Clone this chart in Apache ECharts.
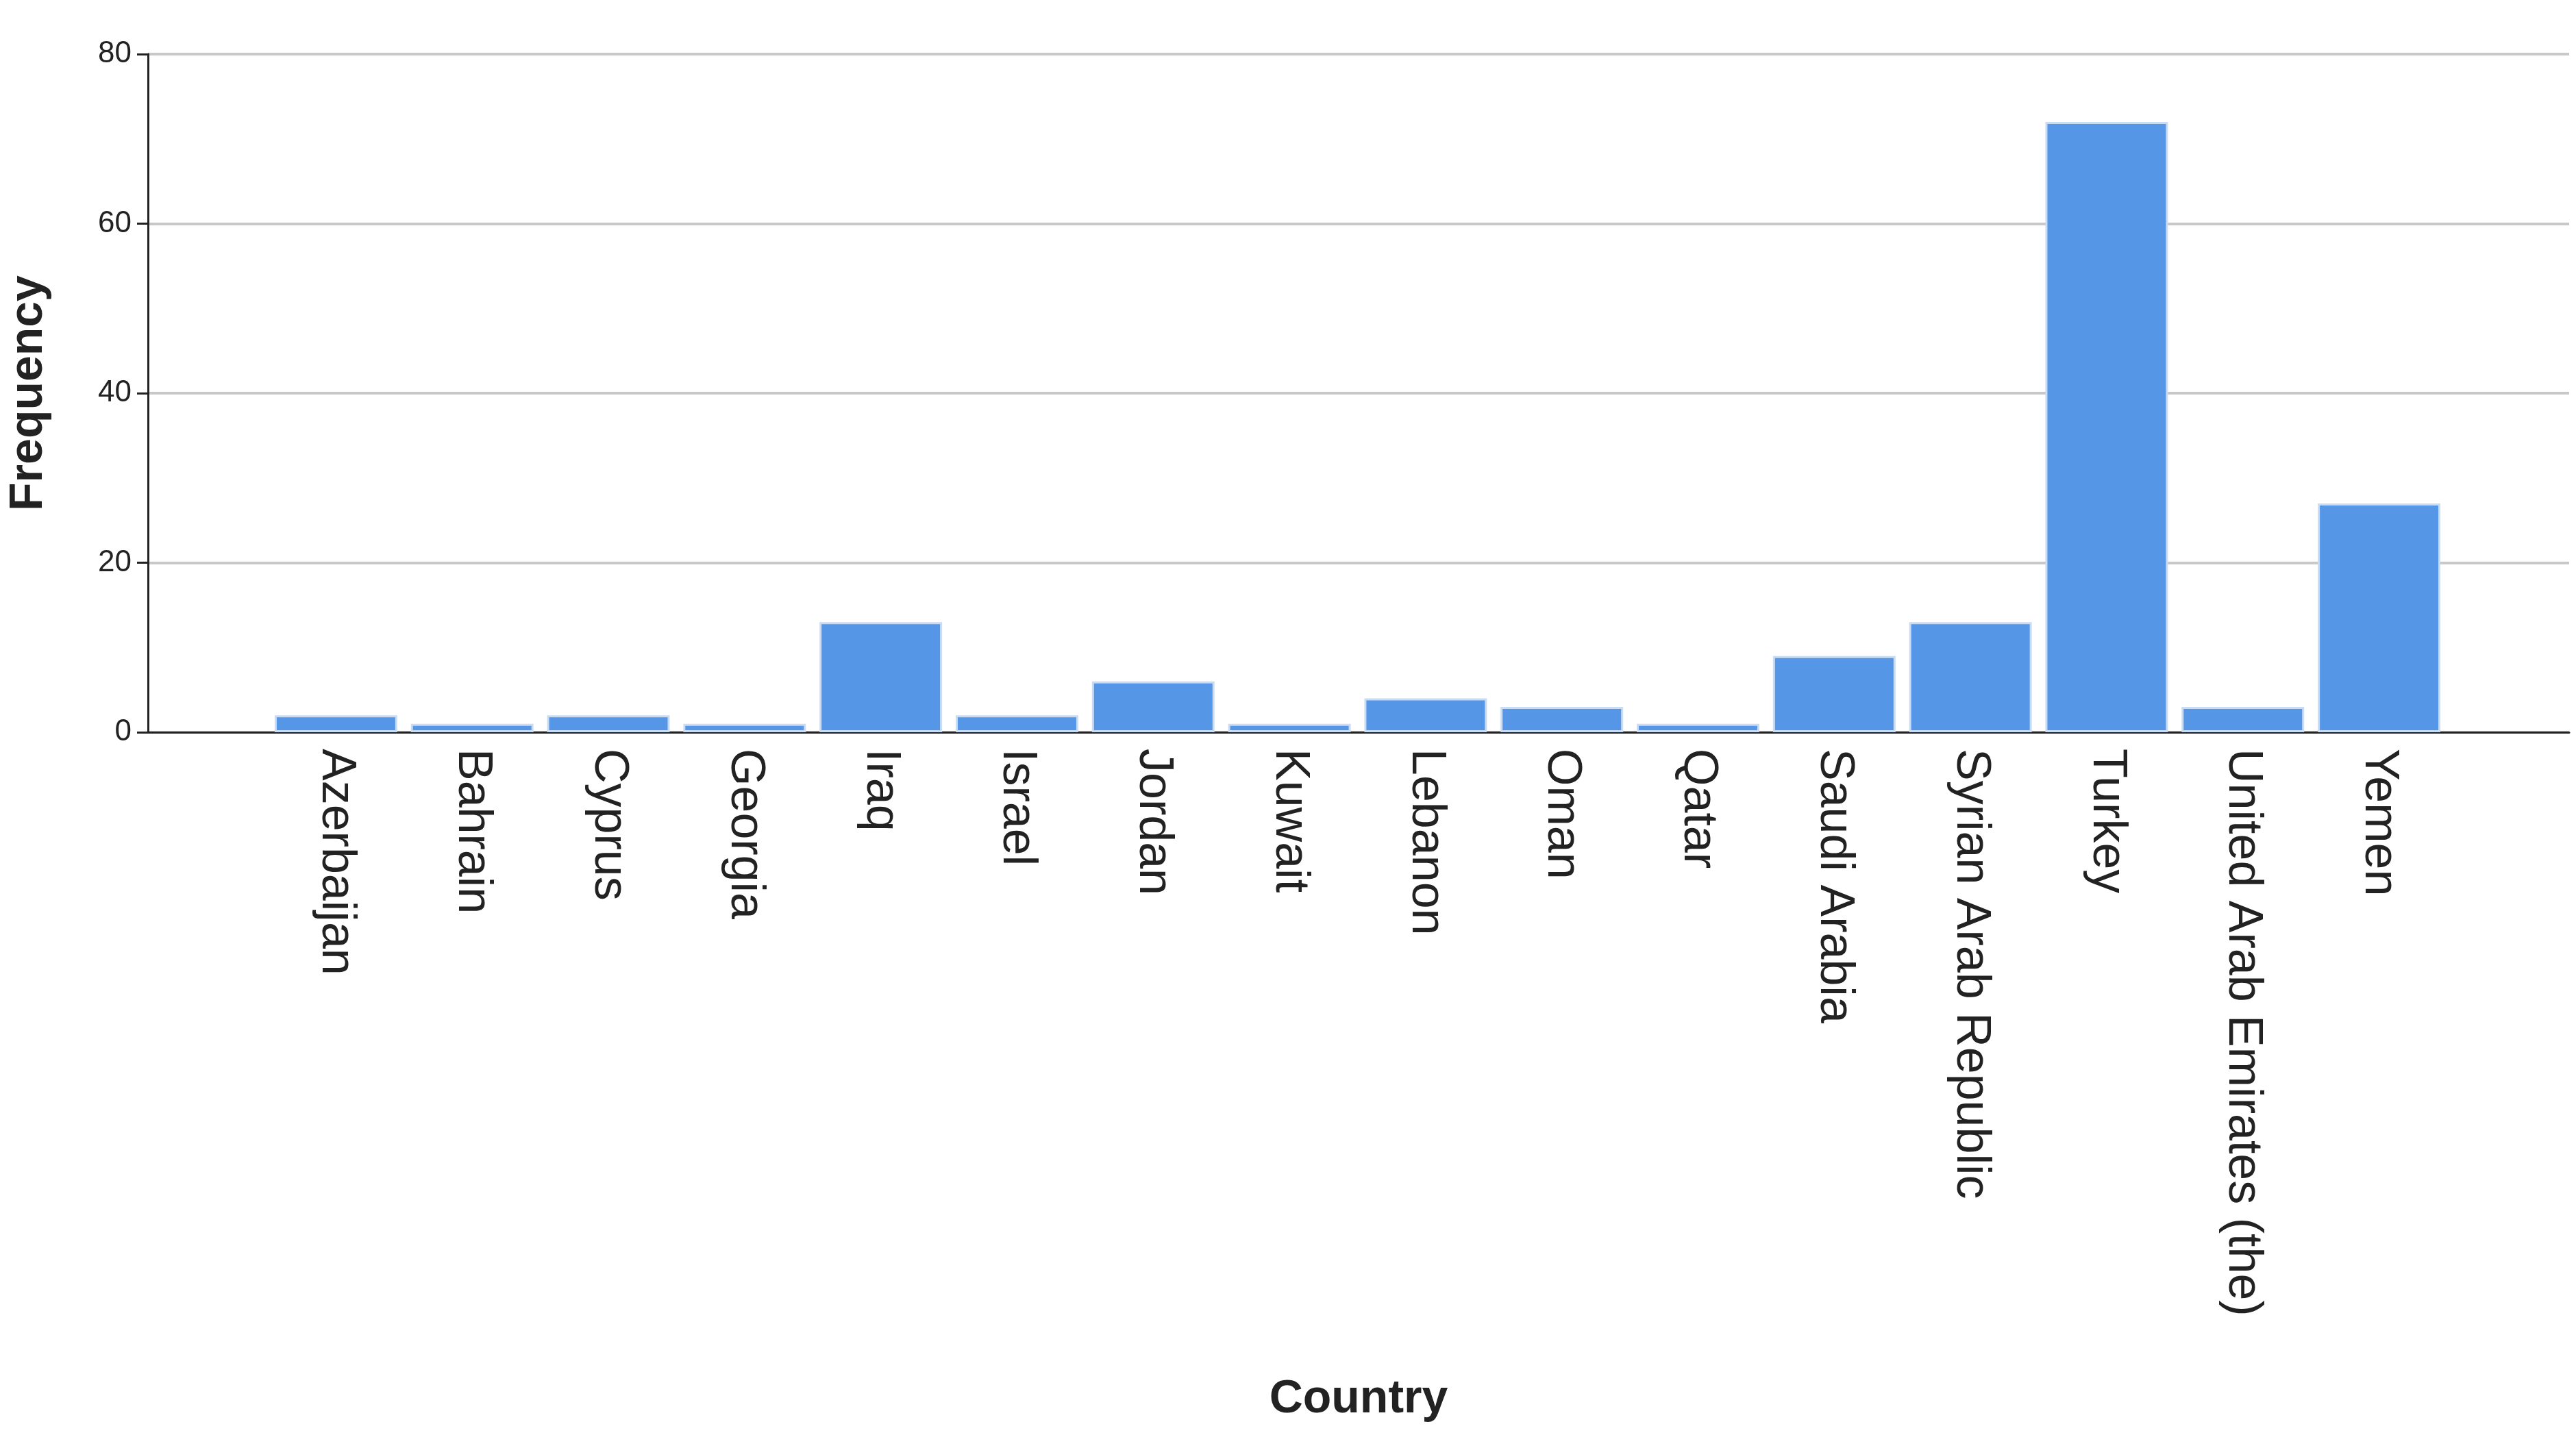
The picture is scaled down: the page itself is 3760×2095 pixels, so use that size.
<!doctype html>
<html>
<head>
<meta charset="utf-8">
<script src="https://cdn.jsdelivr.net/npm/echarts@6/dist/echarts.min.js"></script>
<style>html,body{margin:0;background:#fff}#main{width:3760px;height:2095px}</style>
</head>
<body>
<div id="main"></div>
<script>
var countries = ['Azerbaijan','Bahrain','Cyprus','Georgia','Iraq','Israel','Jordan','Kuwait','Lebanon','Oman','Qatar','Saudi Arabia','Syrian Arab Republic','Turkey','United Arab Emirates (the)','Yemen'];
var counts = [2,1,2,1,13,2,6,1,4,3,1,9,13,72,3,27];
var yTicks = [0,20,40,60,80];

var chart = echarts.init(document.getElementById('main'));
var font = 'Liberation Sans, Arial, sans-serif';
chart.setOption({
  animation:false,
  grid:[
    {left:208, right:10, top:79, bottom:1026},
    {left:391, right:188, top:79, bottom:1026}
  ],
  xAxis:[
    {gridIndex:0, type:'value', min:0, max:1, show:true,
     axisLabel:{show:false}, axisTick:{show:false}, splitLine:{show:false},
     axisLine:{lineStyle:{color:'#222', width:3}},
     name:'Country', nameLocation:'middle', nameGap:940,
     nameTextStyle:{fontFamily:font, fontWeight:'bold', fontSize:68, color:'#222'}},
    {gridIndex:1, type:'category', data:countries,
     axisLine:{show:false}, axisTick:{show:false},
     axisLabel:{rotate:-90, interval:0, fontFamily:font, fontSize:70, color:'#222', margin:24}}
  ],
  yAxis:[
    {gridIndex:0, type:'value', min:0, max:80, interval:20,
     axisLine:{show:true, lineStyle:{color:'#222', width:3}},
     axisTick:{show:true, length:16, lineStyle:{color:'#222', width:3}},
     axisLabel:{fontFamily:font, fontSize:44, color:'#222', margin:24, formatter:function(v){return yTicks.indexOf(v)>=0?v:'';}},
     splitLine:{lineStyle:{color:'#c8c8c8', width:4}},
     name:'Frequency', nameLocation:'middle', nameGap:140, nameRotate:90,
     nameTextStyle:{fontFamily:font, fontWeight:'bold', fontSize:68, color:'#222'}},
    {gridIndex:1, type:'value', min:0, max:80, show:false, splitLine:{show:false}}
  ],
  series:[{
    type:'bar', xAxisIndex:1, yAxisIndex:1, data:counts, barCategoryGap:'10%',
    itemStyle:{color:'#5596e6', borderColor:'#c9dcf3', borderWidth:3}
  }]
});
</script>
</body>
</html>
